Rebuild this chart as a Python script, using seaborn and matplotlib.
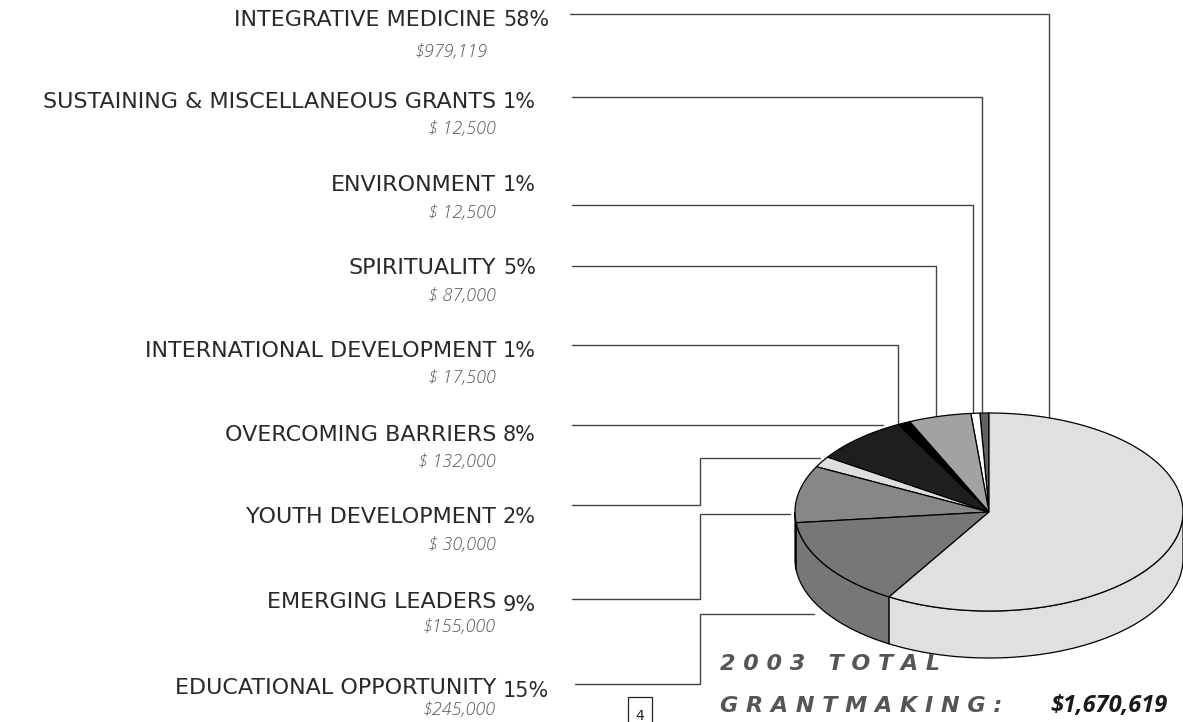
import numpy as np
import pandas as pd
import matplotlib
matplotlib.use("Agg")
import matplotlib.pyplot as plt
from matplotlib.patches import Polygon, Rectangle
import seaborn as sns

# data (label order top to bottom)
categories = ["INTEGRATIVE MEDICINE", "SUSTAINING & MISCELLANEOUS GRANTS", "ENVIRONMENT",
              "SPIRITUALITY", "INTERNATIONAL DEVELOPMENT", "OVERCOMING BARRIERS",
              "YOUTH DEVELOPMENT", "EMERGING LEADERS", "EDUCATIONAL OPPORTUNITY"]
percents = [58, 1, 1, 5, 1, 8, 2, 9, 15]
amounts = [979119, 12500, 12500, 87000, 17500, 132000, 30000, 155000, 245000]
amount_labels = ["$979,119", "$ 12,500", "$ 12,500", "$ 87,000", "$ 17,500",
                 "$ 132,000", "$ 30,000", "$155,000", "$245,000"]
shades = ["#e0e0e0", "#626262", "#ffffff", "#a2a2a2", "#000000",
          "#1e1e1e", "#dedede", "#878787", "#777777"]
total_label = "$1,670,619"

sns.set_theme(style="white")
plt.rcParams["font.family"] = ["DejaVu Sans"]

fig = plt.figure(figsize=(11.83, 7.22), dpi=100)
ax = fig.add_axes([0, 0, 1, 1])

# 3d pie geometry (pixels)
cx, cy, rx, ry, depth = 989, 512, 194, 99, 47

def top_y(x):
    return cy - ry * np.sqrt(max(0.0, 1 - ((x - cx) / rx) ** 2))

# slices run counter-clockwise from 12 o'clock: list[1:] then list[0]
order = list(range(1, len(categories))) + [0]
vals = np.array([amounts[i] for i in order], dtype=float)
fr = vals / vals.sum()
starts = 90 + 360 * np.concatenate([[0], np.cumsum(fr)[:-1]])
ends = 90 + 360 * np.cumsum(fr)

def pt(t, dz=0.0):
    r = np.deg2rad(t)
    return cx + rx * np.cos(r), cy - ry * np.sin(r) + dz

# leader lines
leaders = [
    [(570, 14), (1049, 14), (1049, top_y(1049))],
    [(572, 97), (982, 97), (982, top_y(982))],
    [(572, 205), (973, 205), (973, top_y(973))],
    [(572, 266), (936, 266), (936, top_y(936))],
    [(572, 345), (898, 345), (898, top_y(898))],
    [(572, 425), (883, 425)],
    [(572, 505), (700, 505), (700, 458), (820, 458)],
    [(572, 599), (700, 599), (700, 514), (790, 514)],
    [(575, 684), (700, 684), (700, 614), (814, 614)],
]
rows = []
for k, pts in enumerate(leaders):
    for j, (x, y) in enumerate(pts):
        rows.append({"slice": k, "step": j, "x": x, "y": y})
lead = pd.DataFrame(rows)
sns.lineplot(data=lead, x="x", y="y", units="slice", estimator=None, sort=False,
             color="#444444", linewidth=1.0, ax=ax, legend=False, zorder=1)

# side walls (front half only)
for i, a0, a1 in zip(order, starts, ends):
    for off in (0, 360):
        lo = max(a0, 180 + off)
        hi = min(a1, 360 + off)
        if hi <= lo:
            continue
        ts = np.linspace(lo, hi, 80)
        topp = [pt(t) for t in ts]
        botp = [pt(t, depth) for t in ts[::-1]]
        ax.add_patch(Polygon(topp + botp, closed=True, facecolor=shades[i],
                             edgecolor="black", linewidth=0.9, zorder=2))

# top wedges
for i, a0, a1 in zip(order, starts, ends):
    ts = np.linspace(a0, a1, max(4, int((a1 - a0) * 2)))
    poly = [(cx, cy)] + [pt(t) for t in ts]
    ax.add_patch(Polygon(poly, closed=True, facecolor=shades[i],
                         edgecolor="black", linewidth=0.9, zorder=3))

# labels
name_y = [20, 102, 185, 268, 351, 435, 517, 602, 688]
amt_y = [52, 129, 213, 296, 378, 462, 545, 627, 710]
for k, cat in enumerate(categories):
    ax.text(496, name_y[k], cat, ha="right", va="center", fontsize=16, color="#2a2a2a")
    ax.text(503, name_y[k] + (3 if k >= 7 else 0), f"{percents[k]}%", ha="left",
            va="center", fontsize=15, color="#2a2a2a")
    ax.text(488 if k == 0 else 496, amt_y[k], amount_labels[k], ha="right", va="center",
            fontsize=13, style="italic", fontweight="light", color="#555555",
            family=["Open Sans", "DejaVu Sans"])

# page number box
ax.add_patch(Rectangle((628, 697), 24, 30, fill=False, edgecolor="#222222", linewidth=0.9))
ax.text(640, 716, "4", ha="center", va="center", fontsize=10, color="#222222")

# total
ax.text(720, 664, "2 0 0 3   T O T A L", ha="left", va="center", fontsize=16,
        style="italic", fontweight="bold", color="#555555")
ax.text(720, 706, "G R A N T M A K I N G :", ha="left", va="center", fontsize=16,
        style="italic", fontweight="bold", color="#555555")
ax.text(1050, 706, total_label, ha="left", va="center", fontsize=17,
        style="italic", fontweight="bold", color="#1a1a1a",
        family=["Open Sans", "DejaVu Sans"])

ax.set_xlim(0, 1183)
ax.set_ylim(722, 0)
ax.axis("off")

fig.savefig("out.png", dpi=100)
